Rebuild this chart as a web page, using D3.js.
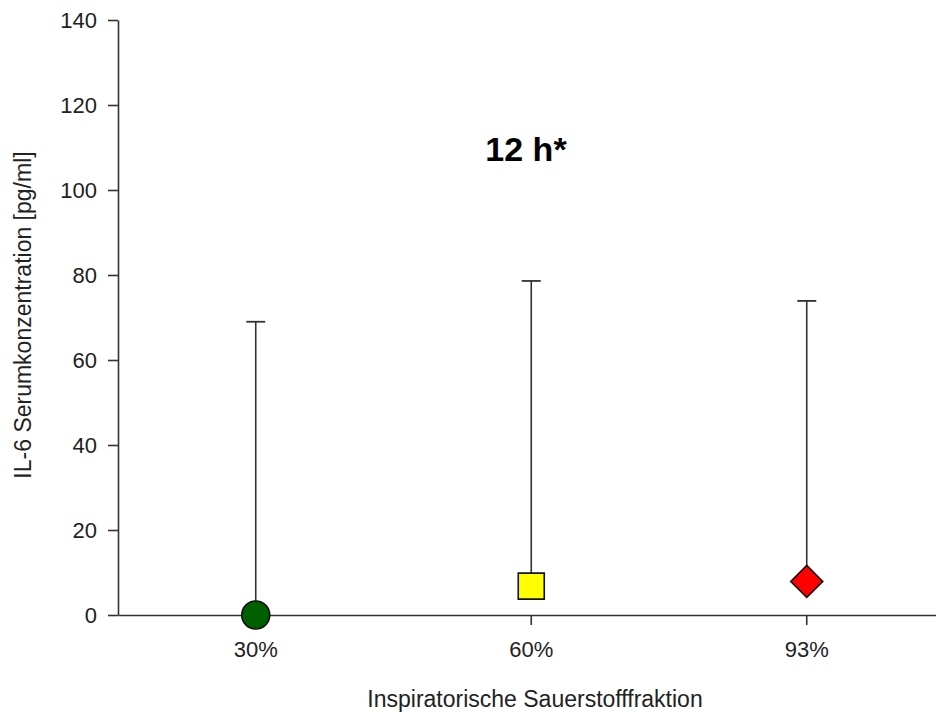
<!DOCTYPE html>
<html><head><meta charset="utf-8">
<script src="https://cdn.jsdelivr.net/npm/d3@7"></script>
<style>body{margin:0;background:#fff}svg{display:block}text{font-family:"Liberation Sans",Arial,sans-serif;fill:#222}</style>
</head><body>
<svg id="c" width="936" height="715"></svg>
<script>
const categories = ["30%", "60%", "93%"];
const medians = [0, 6.8, 7.9];
const upperErrors = [69, 78.6, 73.9];
const symbols = ["circle", "square", "diamond"];
const colors = ["#006000", "#ffff00", "#ff0000"];
const yTicks = [0, 20, 40, 60, 80, 100, 120, 140];
const title = "12 h*";

const svg = d3.select("#c");
const x = d3.scaleBand().domain(categories).range([118, 944.5]).padding(0);
const y = d3.scaleLinear().domain([0, 140]).range([615, 20]);
const stroke = "#333";

// Y axis
const yAxis = svg.append("g").attr("transform", "translate(118,0)")
  .call(d3.axisLeft(y).tickValues(yTicks).tickSize(10).tickSizeOuter(0).tickPadding(11));
yAxis.attr("font-size", null).attr("font-family", null);
yAxis.select(".domain").attr("stroke", stroke).attr("stroke-width", 1.6);
yAxis.selectAll(".tick line").attr("stroke", stroke).attr("stroke-width", 1.6);
yAxis.selectAll(".tick text").style("font-size", "22px").style("fill", "#222");

// X axis
const xAxis = svg.append("g").attr("transform", "translate(0,615)")
  .call(d3.axisBottom(x).tickSize(10).tickSizeOuter(0).tickPadding(16));
xAxis.attr("font-size", null).attr("font-family", null);
xAxis.select(".domain").attr("stroke", stroke).attr("stroke-width", 1.6);
xAxis.selectAll(".tick line").attr("stroke", stroke).attr("stroke-width", 1.6);
xAxis.selectAll(".tick text").style("font-size", "22px").style("fill", "#222");

const cx = d => x(d) + x.bandwidth() / 2;

// Error bars
const eb = svg.append("g");
categories.forEach((c, i) => {
  eb.append("line").attr("x1", cx(c)).attr("x2", cx(c))
    .attr("y1", y(medians[i])).attr("y2", y(upperErrors[i]))
    .attr("stroke", stroke).attr("stroke-width", 1.6);
  eb.append("line").attr("x1", cx(c) - 9.5).attr("x2", cx(c) + 9.5)
    .attr("y1", y(upperErrors[i])).attr("y2", y(upperErrors[i]))
    .attr("stroke", stroke).attr("stroke-width", 1.8);
});

// Markers
const symMap = {circle: d3.symbolCircle, square: d3.symbolSquare, diamond: d3.symbolSquare};
const sizes = {circle: Math.PI * 14 * 14, square: 26 * 26, diamond: 512};
const rot = {circle: 0, square: 0, diamond: 45};
categories.forEach((c, i) => {
  const s = symbols[i];
  svg.append("path")
    .attr("d", d3.symbol().type(symMap[s]).size(sizes[s])())
    .attr("transform", `translate(${cx(c)},${y(medians[i])}) rotate(${rot[s]})`)
    .attr("fill", colors[i]).attr("stroke", "#111").attr("stroke-width", 1.6);
});

// Title
svg.append("text").attr("x", 526).attr("y", 161).attr("text-anchor", "middle")
  .style("font-size", "34px").attr("font-weight", "bold").style("fill", "#000").text(title);

// Axis labels
svg.append("text").attr("x", 535).attr("y", 707).attr("text-anchor", "middle")
  .style("font-size", "23px").text("Inspiratorische Sauerstofffraktion");
svg.append("text").attr("transform", "translate(31,315) rotate(-90)").attr("text-anchor", "middle")
  .style("font-size", "23px").text("IL-6 Serumkonzentration [pg/ml]");
</script>
</body></html>
